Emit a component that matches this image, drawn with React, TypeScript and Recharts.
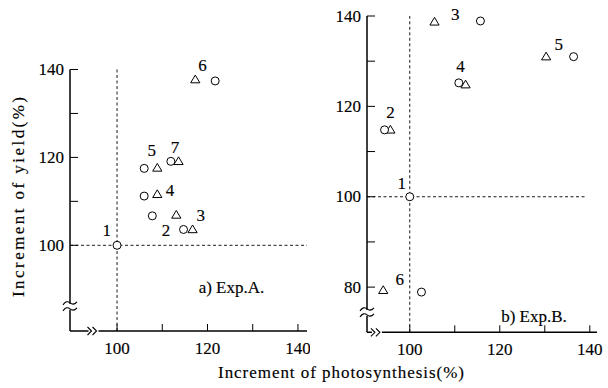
import { ScatterChart, Scatter, XAxis, YAxis, ReferenceLine, ReferenceDot } from 'recharts';

// Exp.A. — circles and triangles
const expACircles = [
  { x: 100, y: 100 },
  { x: 107.8, y: 106.7 },
  { x: 114.7, y: 103.6 },
  { x: 106, y: 111.2 },
  { x: 106, y: 117.5 },
  { x: 121.7, y: 137.4 },
  { x: 111.9, y: 119.1 },
];
const expATriangles = [
  { x: 113.1, y: 106.9 },
  { x: 116.7, y: 103.6 },
  { x: 108.9, y: 111.6 },
  { x: 108.9, y: 117.6 },
  { x: 117.3, y: 137.7 },
  { x: 113.6, y: 119.1 },
];
const expALabels = [
  { x: 97.7, y: 103.3, label: '1' },
  { x: 110.8, y: 103.4, label: '2' },
  { x: 118.5, y: 106.8, label: '3' },
  { x: 111.7, y: 112.5, label: '4' },
  { x: 107.7, y: 121.6, label: '5' },
  { x: 118.9, y: 141, label: '6' },
  { x: 112.8, y: 122.3, label: '7' },
];

// Exp.B.
const expBCircles = [
  { x: 100, y: 100 },
  { x: 94.4, y: 114.8 },
  { x: 115.7, y: 138.9 },
  { x: 110.9, y: 125.2 },
  { x: 136.4, y: 131 },
  { x: 102.6, y: 78.9 },
];
const expBTriangles = [
  { x: 95.7, y: 114.8 },
  { x: 105.5, y: 138.7 },
  { x: 112.4, y: 124.8 },
  { x: 130.3, y: 131 },
  { x: 94.1, y: 79.3 },
];
const expBLabels = [
  { x: 98.2, y: 103, label: '1' },
  { x: 95.7, y: 118.7, label: '2' },
  { x: 110.1, y: 140.4, label: '3' },
  { x: 111.3, y: 128.9, label: '4' },
  { x: 133.1, y: 133.7, label: '5' },
  { x: 97.8, y: 81.6, label: '6' },
];

const xTicks = [100, 110, 120, 130, 140];
const xTickLabels = [100, 120, 140];
const yTicksA = [100, 110, 120, 130, 140];
const yTickLabelsA = [100, 120, 140];
const yTicksB = [80, 90, 100, 110, 120, 130, 140];
const yTickLabelsB = [80, 100, 120, 140];

// slightly heavier serif to look like the printed figure
const serif = {
  fontFamily: '"Liberation Serif", "Times New Roman", "DejaVu Serif", serif',
  stroke: '#000',
  strokeWidth: 0.15,
};

const circleShape = (p: any) => (
  <circle cx={p.cx} cy={p.cy} r={4} fill="#fff" stroke="#000" strokeWidth={1} />
);

const triangleShape = (p: any) => (
  <path
    d={`M${p.cx},${p.cy - 4.5} L${p.cx + 4.6},${p.cy + 3.2} L${p.cx - 4.6},${p.cy + 3.2} Z`}
    fill="#fff"
    stroke="#000"
    strokeWidth={1}
  />
);

const textShape = (text: string, size: number) => (p: any) => (
  <text
    x={p.cx}
    y={p.cy}
    textAnchor="middle"
    dominantBaseline="central"
    style={serif}
    fontSize={size}
    fill="#000"
  >
    {text}
  </text>
);

const makeXTick = (labeled: number[]) => (props: any) => {
  const { x, y, payload } = props;
  return (
    <g>
      <line x1={x} y1={y} x2={x} y2={y - 7} stroke="#000" strokeWidth={1} />
      {labeled.includes(payload.value) && (
        <text x={x} y={y + 23} textAnchor="middle" style={serif} fontSize={17} fill="#000">
          {payload.value}
        </text>
      )}
    </g>
  );
};

const makeYTick = (labeled: number[]) => (props: any) => {
  const { x, y, payload } = props;
  return (
    <g>
      <line x1={x} y1={y} x2={x + 8} y2={y} stroke="#000" strokeWidth={1} />
      {labeled.includes(payload.value) && (
        <text
          x={x - 6}
          y={y}
          textAnchor="end"
          dominantBaseline="central"
          style={serif}
          fontSize={17}
          fill="#000"
        >
          {payload.value}
        </text>
      )}
    </g>
  );
};

// axis break marks
const yBreak = (p: any) => (
  <g>
    <rect x={p.cx - 3} y={p.cy - 3} width={6} height={6} fill="#fff" />
    <path
      d={`M${p.cx - 7},${p.cy - 2} Q${p.cx - 3.5},${p.cy - 7} ${p.cx},${p.cy - 4} Q${p.cx + 3.5},${p.cy - 1} ${p.cx + 7},${p.cy - 5}`}
      fill="none"
      stroke="#000"
      strokeWidth={1.1}
    />
    <path
      d={`M${p.cx - 7},${p.cy + 4} Q${p.cx - 3.5},${p.cy - 1} ${p.cx},${p.cy + 2} Q${p.cx + 3.5},${p.cy + 5} ${p.cx + 7},${p.cy + 1}`}
      fill="none"
      stroke="#000"
      strokeWidth={1.1}
    />
  </g>
);

const xBreak = (p: any) => (
  <g>
    <rect x={p.cx - 5} y={p.cy - 2} width={10} height={4} fill="#fff" />
    <path
      d={`M${p.cx - 6},${p.cy - 4} L${p.cx - 2},${p.cy} L${p.cx - 6},${p.cy + 4}`}
      fill="none"
      stroke="#000"
      strokeWidth={1.1}
    />
    <path
      d={`M${p.cx - 1},${p.cy - 4} L${p.cx + 3},${p.cy} L${p.cx - 1},${p.cy + 4}`}
      fill="none"
      stroke="#000"
      strokeWidth={1.1}
    />
  </g>
);

const axisLine = { stroke: '#000', strokeWidth: 1.5 };
const dash = '3 2.5';

export default function App() {
  return (
    <div style={{ position: 'absolute', left: 0, top: 0, width: 608, height: 388, background: '#fff' }}>
      <div style={{ position: 'absolute', left: 0, top: 0 }}>
        <ScatterChart width={310} height={388} margin={{ top: 69.5, right: 3, bottom: 27, left: 10 }}>
          <XAxis
            type="number"
            dataKey="x"
            domain={[89.6, 142]}
            ticks={xTicks}
            allowDataOverflow
            axisLine={axisLine}
            tickLine={false}
            tickSize={0}
            tickMargin={0}
            height={30}
            tick={makeXTick(xTickLabels)}
          />
          <YAxis
            type="number"
            dataKey="y"
            domain={[80.5, 140]}
            ticks={yTicksA}
            allowDataOverflow
            axisLine={axisLine}
            tickLine={false}
            tickSize={0}
            tickMargin={0}
            width={60}
            tick={makeYTick(yTickLabelsA)}
          />
          <ReferenceLine x={100} stroke="#000" strokeWidth={0.9} strokeDasharray={dash} />
          <ReferenceLine y={100} stroke="#000" strokeWidth={0.9} strokeDasharray={dash} />
          <Scatter data={expATriangles} shape={triangleShape} isAnimationActive={false} />
          <Scatter data={expACircles} shape={circleShape} isAnimationActive={false} />
          {expALabels.map((l) => (
            <ReferenceDot key={'a' + l.label} x={l.x} y={l.y} ifOverflow="visible" shape={textShape(l.label, 17)} />
          ))}
          <ReferenceDot x={89.6} y={86} shape={yBreak} />
          <ReferenceDot x={94.8} y={80.5} shape={xBreak} />
          <ReferenceDot x={125.3} y={90.3} shape={textShape('a) Exp.A.', 17)} />
        </ScatterChart>
      </div>
      <div style={{ position: 'absolute', left: 300, top: 0 }}>
        <ScatterChart width={308} height={388} margin={{ top: 16, right: 11, bottom: 25.7, left: 7 }}>
          <XAxis
            type="number"
            dataKey="x"
            domain={[90.5, 141.6]}
            ticks={xTicks}
            allowDataOverflow
            axisLine={axisLine}
            tickLine={false}
            tickSize={0}
            tickMargin={0}
            height={30}
            tick={makeXTick(xTickLabels)}
          />
          <YAxis
            type="number"
            dataKey="y"
            domain={[70, 140]}
            ticks={yTicksB}
            allowDataOverflow
            axisLine={axisLine}
            tickLine={false}
            tickSize={0}
            tickMargin={0}
            width={60}
            tick={makeYTick(yTickLabelsB)}
          />
          <ReferenceLine x={100} stroke="#000" strokeWidth={0.9} strokeDasharray={dash} />
          <ReferenceLine
            segment={[{ x: 90.5, y: 100 }, { x: 139, y: 100 }]}
            stroke="#000"
            strokeWidth={0.9}
            strokeDasharray={dash}
          />
          <Scatter data={expBTriangles} shape={triangleShape} isAnimationActive={false} />
          <Scatter data={expBCircles} shape={circleShape} isAnimationActive={false} />
          {expBLabels.map((l) => (
            <ReferenceDot key={'b' + l.label} x={l.x} y={l.y} ifOverflow="visible" shape={textShape(l.label, 17)} />
          ))}
          <ReferenceDot x={90.5} y={74.3} shape={yBreak} />
          <ReferenceDot x={92.7} y={70} shape={xBreak} />
          <ReferenceDot x={127.6} y={73.5} shape={textShape('b) Exp.B.', 17)} />
        </ScatterChart>
      </div>
      <svg style={{ position: 'absolute', left: 0, top: 0 }} width={608} height={388} pointerEvents="none">
        <text
          x={18}
          y={197}
          transform="rotate(-90 18 197)"
          textAnchor="middle"
          dominantBaseline="central"
          style={serif}
          fontSize={17}
          textLength={200}
          lengthAdjust="spacing"
          fill="#000"
        >
          Increment of yield(%)
        </text>
        <text
          x={341}
          y={372}
          textAnchor="middle"
          dominantBaseline="central"
          style={serif}
          fontSize={17}
          textLength={246}
          lengthAdjust="spacing"
          fill="#000"
        >
          Increment of photosynthesis(%)
        </text>
      </svg>
    </div>
  );
}
